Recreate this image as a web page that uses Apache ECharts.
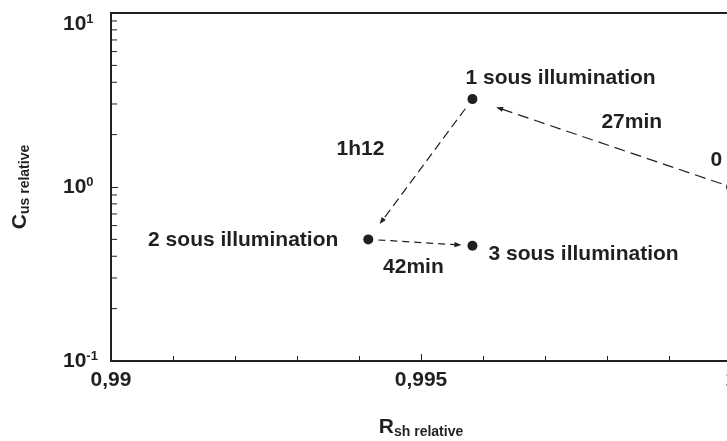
<!DOCTYPE html>
<html>
<head>
<meta charset="utf-8">
<script src="https://cdn.jsdelivr.net/npm/echarts@6/dist/echarts.min.js"></script>
<style>
  html, body { margin: 0; padding: 0; background: #ffffff; }
  #chart { width: 727px; height: 441px; }
</style>
</head>
<body>
<div id="chart"></div>
<script>
// Measured states: relative shunt resistance vs relative C_us
const rshRelative = [1.0, 0.99583, 0.99415, 0.99583];
const cusRelative = [1.0, 3.2, 0.50, 0.46];
const stateNames = ['0 sous illumination', '1 sous illumination', '2 sous illumination', '3 sous illumination'];

// Transitions between states and their durations
const stepFrom = [0, 1, 2];
const stepTo = [1, 2, 3];
const stepDurations = ['27min', '1h12', '42min'];

// Axis settings
const xMin = 0.99, xMax = 1.0, xInterval = 0.005;
const yMin = 0.1, yMax = 10;

const INK = '#231f20';
const FONT = '"Liberation Sans", Arial, Helvetica, sans-serif';

// Label placement for each state (pixels, relative to the marker box)
const stateLabelPlacement = [
  { position: [-15.5, -21.5], align: 'left' },
  { position: [-2, -15.5], align: 'left' },
  { position: [-25, 5.5], align: 'right' },
  { position: [21, 13.5], align: 'left' }
];

// Arrow drawing parameters for each transition
const arrowStyle = [
  { gapStart: 10, gapEnd: 25, dash: [11, 6], labelOffset: [30, -21] },
  { gapStart: 12, gapEnd: 19, dash: [9, 5], labelOffset: [-60, -20] },
  { gapStart: 10, gapEnd: 11, dash: [7, 5], labelOffset: [-7, 24.5] }
];

// Minor ticks of the logarithmic axis (2..9 in each decade)
const logMinorTicks = [];
for (let d = 0.1; d < yMax - 1e-9; d *= 10) {
  for (let k = 2; k <= 9; k++) logMinorTicks.push([xMin, +(k * d).toPrecision(3)]);
}

const pointData = rshRelative.map((x, i) => ({
  value: [x, cusRelative[i]],
  name: stateNames[i],
  label: {
    show: true,
    formatter: stateNames[i],
    position: stateLabelPlacement[i].position,
    align: stateLabelPlacement[i].align,
    verticalAlign: 'middle'
  }
}));

const arrowData = stepFrom.map((f, i) => [
  rshRelative[f], cusRelative[f], rshRelative[stepTo[i]], cusRelative[stepTo[i]]
]);

const chart = echarts.init(document.getElementById('chart'), null, { renderer: 'canvas' });

chart.setOption({
  animation: false,
  backgroundColor: '#ffffff',
  grid: {
    left: 111, right: -4, top: 13, bottom: 80,
    containLabel: false,
    outerBoundsMode: 'none',
    show: true, borderColor: INK, borderWidth: 2, backgroundColor: 'transparent'
  },
  xAxis: {
    type: 'value',
    min: xMin, max: xMax, interval: xInterval,
    name: '{m|R}{s|sh relative}',
    nameLocation: 'middle',
    nameGap: 54,
    nameTextStyle: {
      rich: {
        m: { fontFamily: FONT, fontWeight: 'bold', fontSize: 21, color: INK, lineHeight: 24 },
        s: { fontFamily: FONT, fontWeight: 'bold', fontSize: 14, color: INK, lineHeight: 14, padding: [11, 0, 0, 0] }
      }
    },
    axisLine: { show: true, lineStyle: { color: INK, width: 2 } },
    axisTick: { show: true, inside: true, length: 7, lineStyle: { color: INK, width: 1 } },
    minorTick: { show: true, splitNumber: 5, length: 5, lineStyle: { color: INK, width: 1 } },
    splitLine: { show: false },
    axisLabel: {
      margin: 9,
      fontFamily: FONT, fontWeight: 'bold', fontSize: 21, color: INK,
      formatter: v => String(+v.toFixed(3)).replace('.', ',')
    }
  },
  yAxis: {
    type: 'log',
    logBase: 10,
    min: yMin, max: yMax,
    name: '{m|C}{s|us relative}',
    nameLocation: 'middle',
    nameRotate: 90,
    nameGap: 79,
    nameTextStyle: {
      rich: {
        m: { fontFamily: FONT, fontWeight: 'bold', fontSize: 21, color: INK, lineHeight: 24 },
        s: { fontFamily: FONT, fontWeight: 'bold', fontSize: 14, color: INK, lineHeight: 14, padding: [11, 0, 0, 0] }
      }
    },
    axisLine: { show: true, lineStyle: { color: INK, width: 2 } },
    axisTick: { show: true, inside: true, length: 7, lineStyle: { color: INK, width: 1 } },
    splitLine: { show: false },
    axisLabel: {
      margin: 48,
      align: 'left',
      verticalAlignMaxLabel: 'top',
      formatter: v => '{b|10}{e|' + Math.round(Math.log10(v)) + '}',
      rich: {
        b: { fontFamily: FONT, fontWeight: 'bold', fontSize: 21, color: INK, lineHeight: 22 },
        e: { fontFamily: FONT, fontWeight: 'bold', fontSize: 13, color: INK, lineHeight: 13, padding: [0, 0, 9, 0] }
      }
    }
  },
  series: [
    {
      // minor ticks on the logarithmic axis
      type: 'custom',
      silent: true,
      clip: false,
      data: logMinorTicks,
      renderItem: (params, api) => {
        const p = api.coord([api.value(0), api.value(1)]);
        return {
          type: 'line',
          shape: { x1: p[0], y1: p[1], x2: p[0] + 6, y2: p[1] },
          style: { stroke: INK, lineWidth: 1 }
        };
      }
    },
    {
      // dashed transition arrows with their durations
      type: 'custom',
      silent: true,
      clip: false,
      encode: { x: [0, 2], y: [1, 3] },
      data: arrowData,
      renderItem: (params, api) => {
        const i = params.dataIndex;
        const st = arrowStyle[i];
        const a = api.coord([api.value(0), api.value(1)]);
        const b = api.coord([api.value(2), api.value(3)]);
        const dx = b[0] - a[0], dy = b[1] - a[1];
        const len = Math.hypot(dx, dy);
        const ux = dx / len, uy = dy / len;
        const s = [a[0] + ux * st.gapStart, a[1] + uy * st.gapStart];
        const t = [b[0] - ux * st.gapEnd, b[1] - uy * st.gapEnd];
        const hl = 7, hw = 2.6;
        const base = [t[0] - ux * hl, t[1] - uy * hl];
        const mid = [(a[0] + b[0]) / 2, (a[1] + b[1]) / 2];
        return {
          type: 'group',
          children: [
            {
              type: 'line',
              shape: { x1: s[0], y1: s[1], x2: base[0] + ux * 2, y2: base[1] + uy * 2 },
              style: { stroke: INK, lineWidth: 1.2, lineDash: st.dash }
            },
            {
              type: 'polygon',
              shape: { points: [t, [base[0] - uy * hw, base[1] + ux * hw], [base[0] + uy * hw, base[1] - ux * hw]] },
              style: { fill: INK }
            },
            {
              type: 'text',
              x: mid[0] + st.labelOffset[0],
              y: mid[1] + st.labelOffset[1],
              style: {
                text: stepDurations[i],
                font: 'bold 21px ' + FONT,
                fill: INK,
                align: 'center',
                verticalAlign: 'middle'
              }
            }
          ]
        };
      }
    },
    {
      type: 'scatter',
      symbol: 'circle',
      symbolSize: 10,
      itemStyle: { color: INK, opacity: 1 },
      label: {
        fontFamily: FONT, fontWeight: 'bold', fontSize: 21, color: INK, opacity: 1
      },
      data: pointData,
      z: 5
    }
  ]
});
</script>
</body>
</html>
